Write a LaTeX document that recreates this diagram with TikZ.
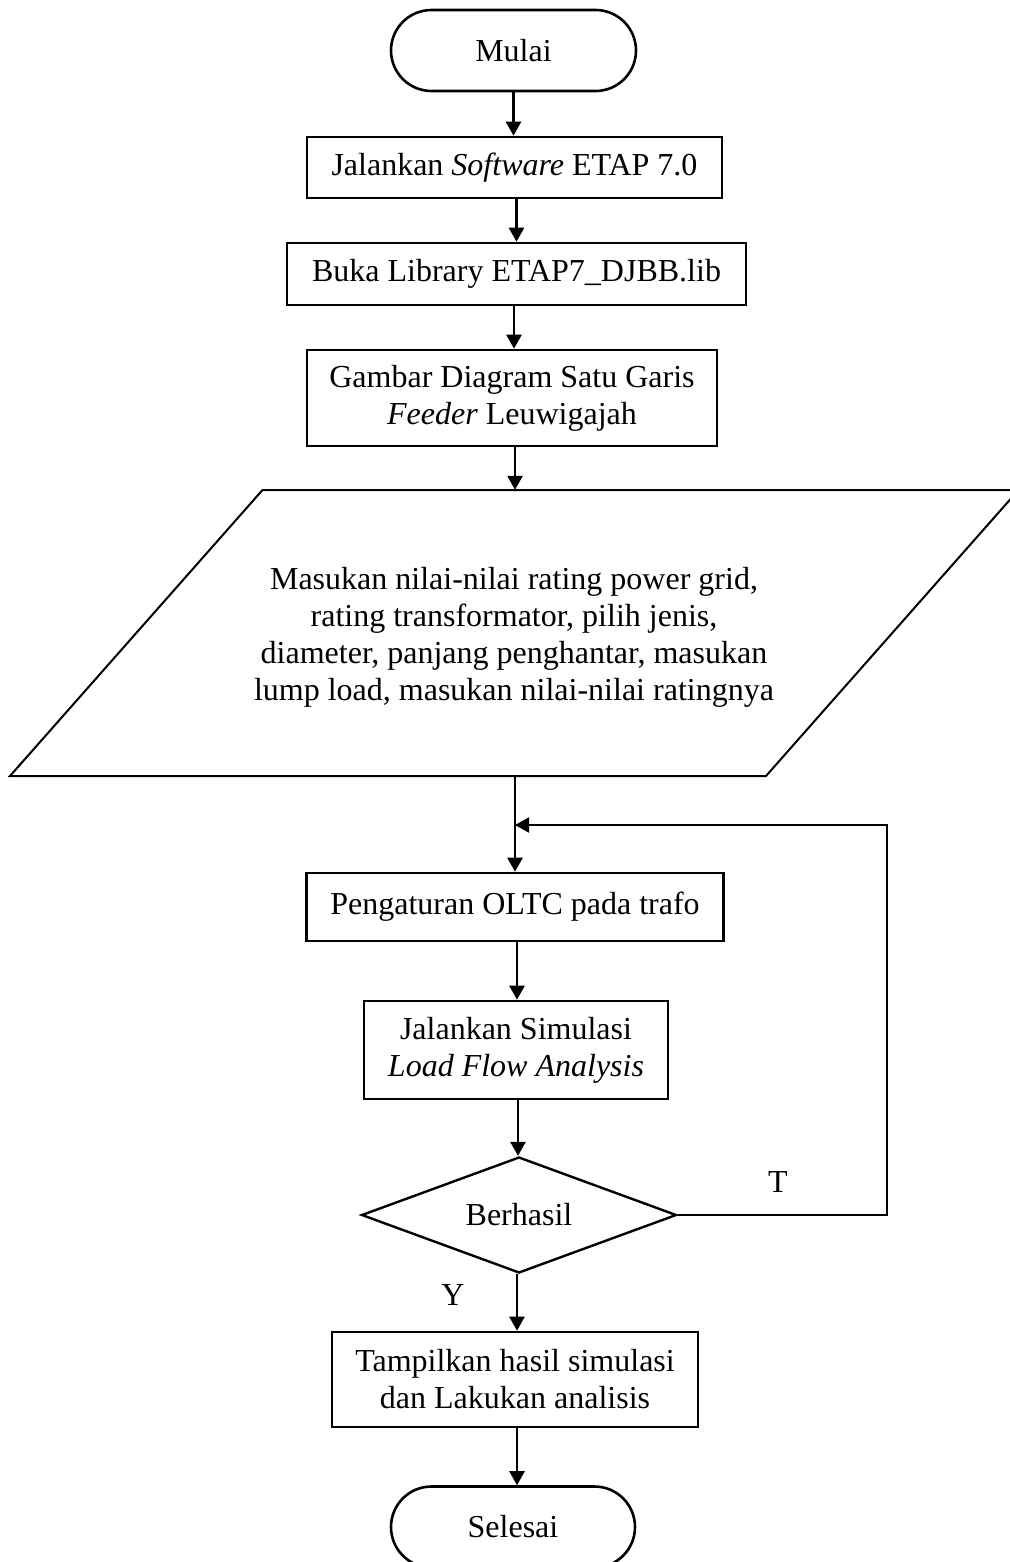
\documentclass[tikz,border=0pt]{standalone}
\usepackage{fontspec}
\setmainfont{Liberation Serif}
\usetikzlibrary{arrows.meta,shapes.geometric,shapes.misc}
\tikzset{
  base/.style={font=\fontsize{32}{37}\selectfont, align=center, inner sep=0pt},
  procbox/.style={base, draw, line width=2.6pt, rectangle},
  term/.style={base, draw, line width=2.6pt, rounded rectangle, minimum width=245pt, minimum height=81pt},
  decis/.style={base, draw, line width=2.4pt, diamond, aspect=2.7, minimum width=315pt, minimum height=116pt},
  flow/.style={line width=2.6pt, -{Triangle[length=14pt,width=15pt]}},
  backflow/.style={line width=2pt, -{Triangle[length=14pt,width=15pt]}},
  lbl/.style={base}
}
\begin{document}
\begin{tikzpicture}[x=1pt,y=-1pt]
\useasboundingbox (0,0) rectangle (1009,1562);
\node[term] (start) at (513.5,50.5) {Mulai};
\node[procbox, minimum width=415pt, minimum height=61pt] (b1) at (514.5,167.5) {Jalankan \textit{Software} ETAP 7.0};
\node[procbox, minimum width=459pt, minimum height=62pt] (b2) at (516.5,274) {Buka Library ETAP7\_DJBB.lib};
\node[procbox, minimum width=410pt, minimum height=96pt] (b3) at (512,398) {Gambar Diagram Satu Garis\\\textit{Feeder} Leuwigajah};
% parallelogram
\draw[line width=2pt] (10,776) -- (262.5,490) -- (1018.5,490) -- (766,776) -- cycle;
\node[base, minimum height=286pt, minimum width=500pt] (para) at (515,633) {};
\node[base] (paratext) at (514,637) {Masukan nilai-nilai rating power grid,\\rating transformator, pilih jenis,\\diameter, panjang penghantar, masukan\\lump load, masukan nilai-nilai ratingnya};
\node[procbox, minimum width=417pt, minimum height=68pt] (b4) at (515,907) {Pengaturan OLTC pada trafo};
\node[procbox, minimum width=304pt, minimum height=98pt] (b5) at (516,1050) {Jalankan Simulasi\\\textit{Load Flow Analysis}};
\node[decis] (dec) at (519,1215) {Berhasil};
\node[procbox, minimum width=366pt, minimum height=95pt] (b6) at (515,1379.5) {Tampilkan hasil simulasi\\dan Lakukan analisis};
\node[term, minimum width=244pt] (stop) at (513,1527) {Selesai};
\coordinate (join) at (515,825);
\coordinate (rt) at (887,1215);
\coordinate (xa) at (516.5,0);
\coordinate (xb) at (514,0);
\coordinate (xc) at (517,0);
\coordinate (xd) at (518,0);
\node[lbl] (tl) at (778,1182) {T};
\node[lbl] (yl) at (453,1295) {Y};
% connectors
\draw[flow] (start.south) -- (start.south |- b1.north);
\draw[flow] (b1.south -| xa) -- (xa |- b2.north);
\draw[flow] (b2.south -| xb) -- (xb |- b3.north);
\draw[flow] (b3.south -| para.south) -- (para.north);
\draw[flow] (para.south) -- (para.south |- b4.north);
\draw[flow] (b4.south -| xc) -- (xc |- b5.north);
\draw[flow] (b5.south -| xd) -- (xd |- dec.north);
\draw[flow] (dec.south -| xc) -- (xc |- b6.north);
\draw[flow] (b6.south -| xc) -- (xc |- stop.north);
\draw[backflow] (dec.east) -- (rt) -- (rt |- join) -- (join);
\end{tikzpicture}
\end{document}
